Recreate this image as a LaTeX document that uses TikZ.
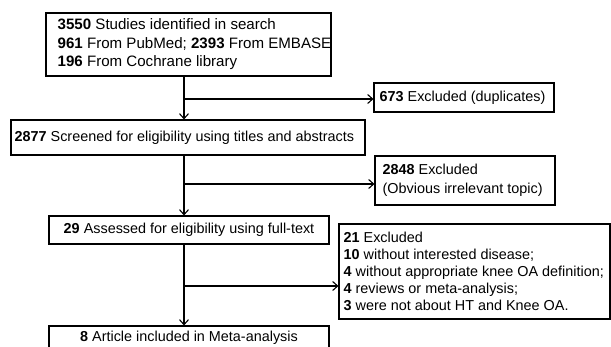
\documentclass[tikz,border=0pt]{standalone}
\usepackage{fontspec}
\setmainfont{Liberation Sans}
\usetikzlibrary{arrows.meta}
\begin{document}
\begin{tikzpicture}[x=1pt,y=-1pt,
  box/.style={draw, line width=1.1pt, rectangle, inner sep=0pt},
  txt/.style={inner sep=0pt, align=left, anchor=west, font=\fontsize{14.4}{18.5}\selectfont},
  arr/.style={line width=1.1pt, -{Straight Barb[length=5pt,width=9pt,line width=1.1pt]}}]
\useasboundingbox (0,0) rectangle (611,346);
% boxes
\node[box, minimum width=285, minimum height=63] (b1) at (188.5,44.5) {};
\node[box, minimum width=180, minimum height=29] (b673) at (464,97.5) {};
\node[box, minimum width=354, minimum height=35] (b2) at (188,137.5) {};
\node[box, minimum width=180, minimum height=49] (b2848) at (465,180.5) {};
\node[box, minimum width=280, minimum height=28] (b3) at (189,230) {};
\node[box, minimum width=271, minimum height=95] (b21) at (474.5,271.5) {};
\node[box, minimum width=280, minimum height=28] (b4) at (189,340) {};
% texts
\node[txt, font=\fontsize{15.1}{18.5}\selectfont] (t1) at ([xshift=12]b1.west)
  {\textbf{3550} Studies identified in search\\\textbf{961} From PubMed; \textbf{2393} From EMBASE\\\textbf{196} From Cochrane library};
\node[txt] (t673) at ([xshift=6]b673.west) {\textbf{673} Excluded (duplicates)};
\node[txt] (t2) at ([xshift=4]b2.west) {\textbf{2877} Screened for eligibility using titles and abstracts};
\node[txt] (t2848) at ([xshift=8]b2848.west) {\textbf{2848} Excluded\\(Obvious irrelevant topic)};
\node[txt, anchor=center] (t3) at (b3.center) {\textbf{29} Assessed for eligibility using full-text};
\node[txt, font=\fontsize{14.4}{17}\selectfont] (t21) at ([xshift=5]b21.west)
  {\textbf{21} Excluded\\\textbf{10} without interested disease;\\\textbf{4} without appropriate knee OA definition;\\\textbf{4} reviews or meta-analysis;\\\textbf{3} were not about HT and Knee OA.};
\node[txt, anchor=center] (t4) at ([yshift=2]b4.center) {\textbf{8} Article included in Meta-analysis};
% connectors
\coordinate (sp) at (184,0);
\coordinate (j1) at (184,99);
\coordinate (j2) at (184,184);
\coordinate (j3) at (184,286);
\draw[arr] (b1.south -| sp) -- (b2.north -| sp);
\draw[arr] (j1) -- (j1 -| b673.west);
\draw[arr] (b2.south -| sp) -- (b3.north -| sp);
\draw[arr] (j2) -- (j2 -| b2848.west);
\draw[arr] (b3.south -| sp) -- (b4.north -| sp);
\draw[arr] (j3) -- (j3 -| b21.west);
\end{tikzpicture}
\end{document}
